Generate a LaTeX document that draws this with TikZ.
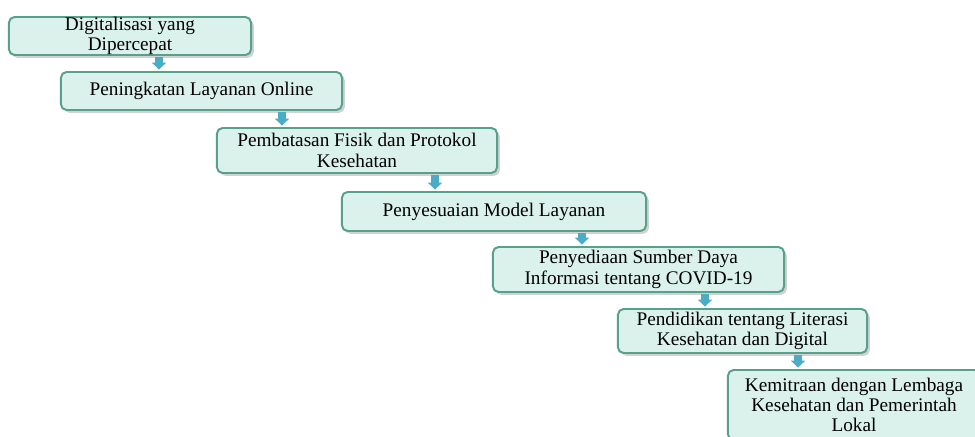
\documentclass[tikz,border=0pt]{standalone}
\usepackage{fontspec}
\setmainfont{Liberation Serif}
\usetikzlibrary{arrows.meta,shadows}

\definecolor{boxfill}{HTML}{DBF2EC}
\definecolor{boxline}{HTML}{56A08C}
\definecolor{arrowblue}{HTML}{4BACC6}

\begin{document}
\begin{tikzpicture}[x=0.025cm, y=-0.025cm,
    stepbox/.style={draw=boxline, fill=boxfill, line width=1.4pt, rounded corners=4pt,
        align=center, inner sep=0pt, font=\fontsize{13.7pt}{14.4pt}\selectfont,
        drop shadow={opacity=0.35, shadow xshift=2pt, shadow yshift=-2pt}},
    flowarrow/.style={draw=arrowblue, line width=5.7pt,
        -{Triangle[width=10pt, length=5pt, fill=arrowblue]},
        shorten <=1pt, shorten >=1pt}]

    % Keep the page at the reference size and cut the last box at its edge
    \useasboundingbox (0,0) rectangle (975,436);
    \clip (0,0) rectangle (975,436);
    \fill[white] (0,0) rectangle (975,436);

    % The steps, each one further down and to the right
    \node[stepbox, minimum width=6.05cm, minimum height=0.95cm] (digital) at (130,36)
        {Digitalisasi yang\\Dipercepat};
    \node[stepbox, minimum width=7.025cm, minimum height=0.95cm] (online) at (201.5,91)
        {Peningkatan Layanan Online};
    \node[stepbox, minimum width=7cm, minimum height=1.125cm] (fisik) at (357,150.5)
        {Pembatasan Fisik dan Protokol\\Kesehatan};
    \node[stepbox, minimum width=7.6cm, minimum height=0.975cm] (model) at (494,211.5)
        {Penyesuaian Model Layanan};
    \node[stepbox, minimum width=7.275cm, minimum height=1.125cm] (sumber) at (638.5,269.5)
        {Penyediaan Sumber Daya\\Informasi tentang COVID-19};
    \node[stepbox, minimum width=6.225cm, minimum height=1.1cm] (literasi) at (742.5,331)
        {Pendidikan tentang Literasi\\Kesehatan dan Digital};
    \node[stepbox, minimum width=6.3cm, minimum height=1.75cm] (mitra) at (854,405)
        {Kemitraan dengan Lembaga\\Kesehatan dan Pemerintah\\Lokal};

    % Where the arrows between the steps sit
    \coordinate (a1) at (159,0);
    \coordinate (a2) at (282,0);
    \coordinate (a3) at (435,0);
    \coordinate (a4) at (582,0);
    \coordinate (a5) at (705,0);
    \coordinate (a6) at (798,0);

    % Arrows from one step to the next
    \draw[flowarrow] (digital.south -| a1) -- (online.north -| a1);
    \draw[flowarrow] (online.south -| a2) -- (fisik.north -| a2);
    \draw[flowarrow] (fisik.south -| a3) -- (model.north -| a3);
    \draw[flowarrow] (model.south -| a4) -- (sumber.north -| a4);
    \draw[flowarrow] (sumber.south -| a5) -- (literasi.north -| a5);
    \draw[flowarrow] (literasi.south -| a6) -- (mitra.north -| a6);

\end{tikzpicture}
\end{document}
